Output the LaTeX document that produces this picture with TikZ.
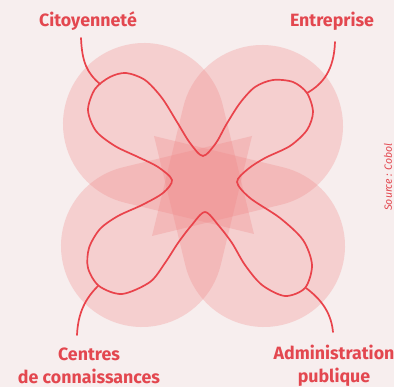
\documentclass[tikz,border=0pt]{standalone}
\usepackage{fontspec}
\setmainfont{Fira Sans}
\definecolor{bg}{HTML}{F7EEEE}
\definecolor{petal}{RGB}{240,130,130}
\definecolor{redline}{HTML}{E9434B}
\definecolor{redtext}{HTML}{E3474F}
\begin{document}
\begin{tikzpicture}[x=1pt,y=-1pt,
  petalfill/.style={fill=petal,fill opacity=0.28},
  lbl/.style={text=redtext,font=\bfseries\fontsize{17.8}{23}\selectfont,align=center,inner sep=0pt},
  curve/.style={draw=redline,line width=1.7pt,line cap=round,line join=round}]
\fill[bg] (0,0) rectangle (394,387);
\useasboundingbox (0,0) rectangle (394,387);
% petals: teardrops whose tips point to the centre
\newcommand{\petalpath}{(13.6:81) arc[start angle=13.6,end angle=256.4,radius=81] -- (110,-110) -- cycle}
\begin{scope}[shift={(144,124)},y=1pt]
  \fill[petalfill] \petalpath;
\end{scope}
\begin{scope}[shift={(262,126)},y=1pt,rotate=-90]
  \fill[petalfill] \petalpath;
\end{scope}
\begin{scope}[shift={(142,246)},y=1pt,rotate=90]
  \fill[petalfill] \petalpath;
\end{scope}
\begin{scope}[shift={(264,246)},y=1pt,rotate=180]
  \fill[petalfill] \petalpath;
\end{scope}
% closed curve
\draw[curve] plot[smooth cycle,tension=0.5] coordinates {
 (203,156) (216,143) (226,125) (240,103) (255,87) (273,80) (293,82) (307,93)
 (313,112) (307,130) (290,146) (265,158) (248,169) (237,182) (250,198) (280,218)
 (303,240) (312,265) (305,288) (285,296) (262,285) (245,265) (232,243) (219,226)
 (205,212) (191,226) (178,243) (165,263) (150,282) (122,294) (99,286) (88,268)
 (89,248) (100,229) (118,216) (142,205) (163,193) (172,180) (158,167) (138,157)
 (115,146) (96,131) (88,110) (95,89) (110,77) (126,73) (145,80) (162,98)
 (177,122) (190,143)};
% labels
\node[lbl] (cit) at (88,21) {Citoyenneté};
\node[lbl] (ent) at (332,21) {Entreprise};
\node[lbl] (cen) at (89,366) {Centres\\de connaissances};
\node[lbl] (adm) at (334,366) {Administration\\publique};
\node[rotate=90,text=redtext,font=\itshape\fontsize{10.5}{12}\selectfont,inner sep=0pt] (src) at (388,177) {Source : Cobol};
% leader ends
\coordinate (c1) at (81,38);  \coordinate (c1e) at (100,84);
\coordinate (c2) at (335,42); \coordinate (c2e) at (307,93);
\coordinate (c3) at (77,335); \coordinate (c3e) at (98,286);
\coordinate (c4) at (333,332);\coordinate (c4e) at (306,288);
\draw[curve] (c1) .. controls (82,62) and (87,73) .. (c1e);
\draw[curve] (c2) .. controls (334,70) and (323,84) .. (c2e);
\draw[curve] (c3) .. controls (78,312) and (86,298) .. (c3e);
\draw[curve] (c4) .. controls (331,310) and (318,297) .. (c4e);
\end{tikzpicture}
\end{document}
